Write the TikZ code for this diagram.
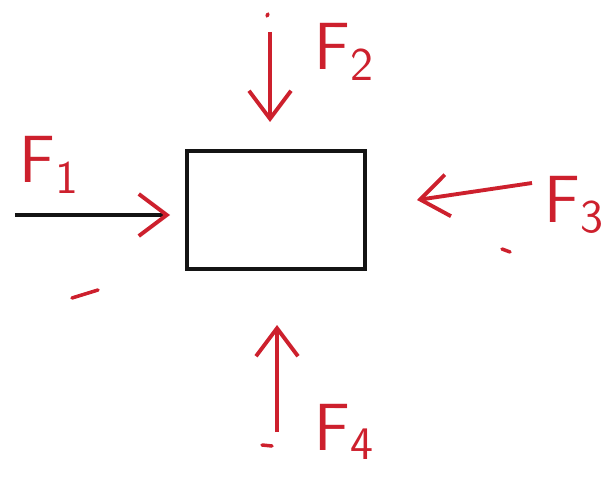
\documentclass[tikz,border=0pt]{standalone}
\usepackage{tikz}
\usetikzlibrary{arrows.meta,positioning}
\definecolor{inkRed}{RGB}{205,32,45}
\definecolor{inkBlack}{RGB}{20,20,20}
\tikzset{
  blockbox/.style={draw=inkBlack, line width=1.4pt, minimum width=1.78cm, minimum height=1.18cm, inner sep=0pt},
  forcearrow/.style={-{Straight Barb[length=2.8mm, width=4.2mm, line width=1.1pt]}, line width=1.1pt, draw=inkRed},
  blackarrow/.style={-{Straight Barb[length=2.8mm, width=4.2mm, line width=1.1pt, color=inkRed]}, line width=1.1pt, draw=inkBlack},
  forcelabel/.style={text=inkRed, font=\fontsize{19}{22}\selectfont\sffamily, inner sep=0pt},
  scribble/.style={draw=inkRed, line width=1pt, line cap=round}
}
\begin{document}
\begin{tikzpicture}
\useasboundingbox (0,0) rectangle (6.12,4.76);

% block
\node[blockbox] (block) at (2.76,2.66) {};

% force arrows
\coordinate (f1tail) at (0.15,2.61);
\coordinate (f1head) at (1.70,2.61);
\coordinate (f2tail) at (2.70,4.44);
\coordinate (f2head) at (2.70,3.54);
\coordinate (f3tail) at (5.32,2.93);
\coordinate (f3head) at (4.17,2.76);
\coordinate (f4tail) at (2.77,0.44);
\coordinate (f4head) at (2.77,1.51);
\draw[blackarrow] (f1tail) -- (f1head);
\draw[forcearrow] (f2tail) -- (f2head);
\draw[forcearrow] (f3tail) -- (f3head);
\draw[forcearrow] (f4tail) -- (f4head);

% labels
\node[forcelabel] (f1) at (0.50,3.11) {F\textsubscript{1}};
\node[forcelabel] (f2) at (3.45,4.24) {F\textsubscript{2}};
\node[forcelabel] (f3) at (5.75,2.71) {F\textsubscript{3}};
\node[forcelabel] (f4) at (3.45,0.44) {F\textsubscript{4}};

% stray marks
\draw[scribble] (0.72,1.78) -- (0.98,1.86);
\draw[scribble] (5.02,2.27) -- (5.10,2.24);
\draw[scribble] (2.62,0.31) -- (2.72,0.30);
\draw[scribble] (2.67,4.60) -- (2.68,4.62);
\end{tikzpicture}
\end{document}
